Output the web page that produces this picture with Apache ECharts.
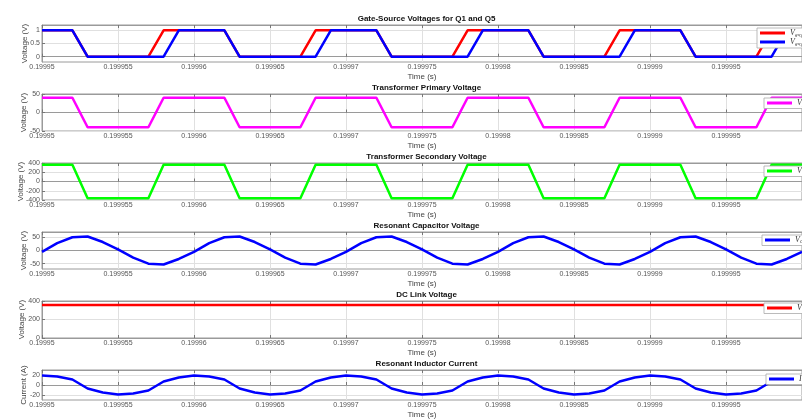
<!DOCTYPE html>
<html>
<head>
<meta charset="utf-8">
<script src="https://cdn.jsdelivr.net/npm/echarts@6/dist/echarts.min.js"></script>
<style>
html,body{margin:0;padding:0;background:#fff}
#chart{width:802px;height:420px}
</style>
</head>
<body>
<div id="chart"></div>
<script>
// Simulation time (s), 1 µs steps over five switching periods
const time = [
  0.19995, 0.199951, 0.199952, 0.199953, 0.199954, 0.199955, 0.199956, 0.199957, 0.199958, 0.199959,
  0.19996, 0.199961, 0.199962, 0.199963, 0.199964, 0.199965, 0.199966, 0.199967, 0.199968, 0.199969,
  0.19997, 0.199971, 0.199972, 0.199973, 0.199974, 0.199975, 0.199976, 0.199977, 0.199978, 0.199979,
  0.19998, 0.199981, 0.199982, 0.199983, 0.199984, 0.199985, 0.199986, 0.199987, 0.199988, 0.199989,
  0.19999, 0.199991, 0.199992, 0.199993, 0.199994, 0.199995, 0.199996, 0.199997, 0.199998, 0.199999,
  0.2
];

// Time-axis tick labels
const timeTicks = [0.19995, 0.199955, 0.19996, 0.199965, 0.19997, 0.199975, 0.19998, 0.199985, 0.19999, 0.199995];

// Gate-source voltages (V)
const vgsQ1 = [
  1, 1, 1, 0, 0, 0, 0, 0, 1, 1,
  1, 1, 1, 0, 0, 0, 0, 0, 1, 1,
  1, 1, 1, 0, 0, 0, 0, 0, 1, 1,
  1, 1, 1, 0, 0, 0, 0, 0, 1, 1,
  1, 1, 1, 0, 0, 0, 0, 0, 1, 1,
  1
];
const vgsQ5 = [
  1, 1, 1, 0, 0, 0, 0, 0, 0, 1,
  1, 1, 1, 0, 0, 0, 0, 0, 0, 1,
  1, 1, 1, 0, 0, 0, 0, 0, 0, 1,
  1, 1, 1, 0, 0, 0, 0, 0, 0, 1,
  1, 1, 1, 0, 0, 0, 0, 0, 0, 1,
  1
];

// Transformer primary voltage (V)
const vPrimary = [
  40, 40, 40, -40, -40, -40, -40, -40, 40, 40,
  40, 40, 40, -40, -40, -40, -40, -40, 40, 40,
  40, 40, 40, -40, -40, -40, -40, -40, 40, 40,
  40, 40, 40, -40, -40, -40, -40, -40, 40, 40,
  40, 40, 40, -40, -40, -40, -40, -40, 40, 40,
  40
];

// Transformer secondary voltage (V)
const vSecondary = [
  360, 360, 360, -360, -360, -360, -360, -360, 360, 360,
  360, 360, 360, -360, -360, -360, -360, -360, 360, 360,
  360, 360, 360, -360, -360, -360, -360, -360, 360, 360,
  360, 360, 360, -360, -360, -360, -360, -360, 360, 360,
  360, 360, 360, -360, -360, -360, -360, -360, 360, 360,
  360
];

// Resonant capacitor voltage (V)
const vCr = [
  -5, 28, 50, 53, 32, 4, -27, -50, -53, -32,
  -5, 28, 50, 53, 32, 4, -27, -50, -53, -32,
  -5, 28, 50, 53, 32, 4, -27, -50, -53, -32,
  -5, 28, 50, 53, 32, 4, -27, -50, -53, -32,
  -5, 28, 50, 53, 32, 4, -27, -50, -53, -32,
  -5
];

// DC link voltage (V)
const vDc = [
  356, 356, 356, 356, 356, 356, 356, 356, 356, 356,
  356, 356, 356, 356, 356, 356, 356, 356, 356, 356,
  356, 356, 356, 356, 356, 356, 356, 356, 356, 356,
  356, 356, 356, 356, 356, 356, 356, 356, 356, 356,
  356, 356, 356, 356, 356, 356, 356, 356, 356, 356,
  356
];

// Resonant inductor current (A)
const iLr = [
  19, 17, 11, -7, -15, -19, -17, -11, 7, 15,
  19, 17, 11, -7, -15, -19, -17, -11, 7, 15,
  19, 17, 11, -7, -15, -19, -17, -11, 7, 15,
  19, 17, 11, -7, -15, -19, -17, -11, 7, 15,
  19, 17, 11, -7, -15, -19, -17, -11, 7, 15,
  19
];

// Per-panel vertical ticks
const ticksGate = [0, 0.5, 1];
const ticksPrimary = [-50, 0, 50];
const ticksSecondary = [-400, -200, 0, 200, 400];
const ticksCr = [-50, 0, 50];
const ticksDc = [0, 200, 400];
const ticksLr = [-20, 0, 20];

const panels = [
  { title: 'Gate-Source Voltages for Q1 and Q5', yName: 'Voltage (V)', min: -0.2, max: 1.2, ticks: ticksGate, nameGap: 13,
    lines: [ { name: 'vgsQ1', label: '{v|V}{s|gs}{t|Q1}', data: vgsQ1, color: '#ff0000' },
             { name: 'vgsQ5', label: '{v|V}{s|gs}{t|Q5}', data: vgsQ5, color: '#0000ff' } ],
    legend: { left: 757, top: 28 } },
  { title: 'Transformer Primary Voltage', yName: 'Voltage (V)', min: -50, max: 50, ticks: ticksPrimary, nameGap: 14,
    lines: [ { name: 'vp', label: '{v|V}{s|p}', data: vPrimary, color: '#ff00ff' } ],
    legend: { left: 764, top: 98 } },
  { title: 'Transformer Secondary Voltage', yName: 'Voltage (V)', min: -400, max: 400, ticks: ticksSecondary, nameGap: 17,
    lines: [ { name: 'vs', label: '{v|V}{s|s}', data: vSecondary, color: '#00ff00' } ],
    legend: { left: 764, top: 166 } },
  { title: 'Resonant Capacitor Voltage', yName: 'Voltage (V)', min: -70, max: 70, ticks: ticksCr, nameGap: 14,
    lines: [ { name: 'vcr', label: '{v|V}{s|Cr}', data: vCr, color: '#0000ff' } ],
    legend: { left: 762, top: 235 } },
  { title: 'DC Link Voltage', yName: 'Voltage (V)', min: 0, max: 400, ticks: ticksDc, nameGap: 16,
    lines: [ { name: 'vdc', label: '{v|V}{s|dc}', data: vDc, color: '#ff0000' } ],
    legend: { left: 764, top: 303 } },
  { title: 'Resonant Inductor Current', yName: 'Current (A)', min: -30, max: 30, ticks: ticksLr, nameGap: 14,
    lines: [ { name: 'ilr', label: '{v|I}{s|Lr}', data: iLr, color: '#0000ff' } ],
    legend: { left: 766, top: 374 } }
];

const PLOT_LEFT = 42, PLOT_WIDTH = 769, PLOT_H = 37, STEP = 69, FIRST_TOP = 25;
const fmtTime = v => String(parseFloat(Number(v).toFixed(6)));

const option = { animation: false, title: [], grid: [], xAxis: [], yAxis: [], series: [], legend: [] };

panels.forEach((p, i) => {
  const top = FIRST_TOP + STEP * i;
  option.grid.push({ left: PLOT_LEFT, width: PLOT_WIDTH, top: top, height: PLOT_H,
    show: true, backgroundColor: '#fff', borderColor: '#9a9a9a', borderWidth: 1 });
  option.title.push({ text: p.title, left: PLOT_LEFT + PLOT_WIDTH / 2, top: top - 10, padding: 0,
    textAlign: 'center',
    textStyle: { fontSize: 8, fontWeight: 'bold', color: '#111', fontFamily: 'Liberation Sans' } });
  option.xAxis.push({
    gridIndex: i, type: 'value', min: 0.19995, max: 0.2, position: 'bottom',
    name: 'Time (s)', nameLocation: 'middle', nameGap: 11, nameMoveOverlap: false,
    nameTextStyle: { fontSize: 8, color: '#444', fontFamily: 'Liberation Sans' },
    axisLine: { show: true, lineStyle: { color: '#9a9a9a' } },
    axisTick: { customValues: timeTicks, inside: true, length: 3, lineStyle: { color: '#777' } },
    axisLabel: { customValues: timeTicks, formatter: fmtTime, fontSize: 7, color: '#555', margin: 2,
      fontFamily: 'Liberation Sans' },
    splitLine: { show: true, lineStyle: { color: '#e0e0e0', width: 1 } }
  });
  option.xAxis.push({
    gridIndex: i, type: 'value', min: 0.19995, max: 0.2, position: 'top',
    axisLine: { show: true, lineStyle: { color: '#9a9a9a' } },
    axisTick: { customValues: timeTicks, inside: true, length: 3, lineStyle: { color: '#777' } },
    axisLabel: { show: false }, splitLine: { show: false }
  });
  option.yAxis.push({
    gridIndex: i, type: 'value', min: p.min, max: p.max,
    name: p.yName, nameLocation: 'middle', nameGap: p.nameGap, nameMoveOverlap: false,
    nameTextStyle: { fontSize: 8, color: '#444', fontFamily: 'Liberation Sans' },
    axisLine: { show: true, lineStyle: { color: '#9a9a9a' } },
    axisTick: { customValues: p.ticks, inside: true, length: 3, lineStyle: { color: '#777' } },
    axisLabel: { customValues: p.ticks, fontSize: 7, color: '#555', margin: 2, fontFamily: 'Liberation Sans' },
    splitLine: { show: true, lineStyle: { color: '#e0e0e0', width: 1 } }
  });
  const labels = {};
  p.lines.forEach(l => {
    labels[l.name] = l.label;
    option.series.push({
      type: 'line', name: l.name, xAxisIndex: 2 * i, yAxisIndex: i,
      data: time.map((t, k) => [t, l.data[k]]),
      symbol: 'none', color: l.color,
      lineStyle: { color: l.color, width: 2.5 }
    });
  });
  option.legend.push({
    data: p.lines.map(l => ({ name: l.name, icon: 'rect' })),
    left: p.legend.left, top: p.legend.top, orient: 'vertical',
    backgroundColor: '#fff', borderColor: '#aaa', borderWidth: 0.8, padding: [1, 3],
    itemWidth: 25, itemHeight: 3, itemGap: 0,
    formatter: name => labels[name],
    textStyle: {
      fontSize: 7, color: '#333',
      rich: {
        v: { fontFamily: 'Liberation Serif', fontStyle: 'italic', fontSize: 8, color: '#333' },
        s: { fontFamily: 'Liberation Serif', fontStyle: 'italic', fontSize: 5, color: '#333', padding: [4, 0, 0, 0] },
        t: { fontFamily: 'Liberation Serif', fontSize: 4, color: '#333', padding: [6, 0, 0, 0] }
      }
    }
  });
});

const chart = echarts.init(document.getElementById('chart'), null, { renderer: 'canvas' });
chart.setOption(option);
</script>
</body>
</html>
